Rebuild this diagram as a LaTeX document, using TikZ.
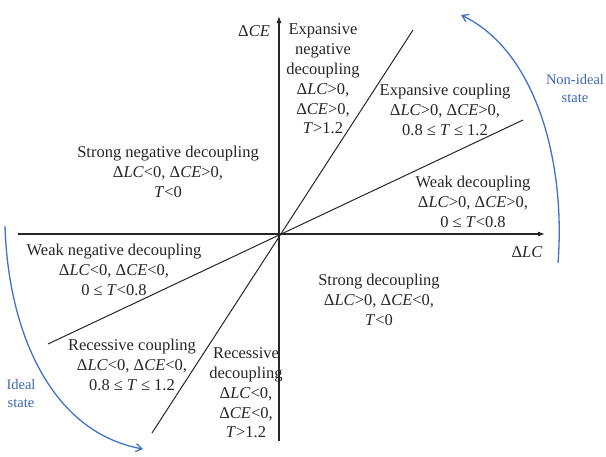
\documentclass[tikz,border=0pt]{standalone}
\usepackage{fontspec}
\setmainfont{Liberation Serif}
\usetikzlibrary{arrows.meta}
\definecolor{txt}{HTML}{262626}
\definecolor{arcblue}{HTML}{3F73C8}
\definecolor{labblue}{HTML}{3B68B0}
\tikzset{
  lbl/.style={inner sep=0pt, align=center, text=txt, font=\fontsize{16.5}{19.8}\selectfont},
  bluelbl/.style={inner sep=0pt, align=center, text=labblue, font=\fontsize{14.5}{18}\selectfont},
  axis/.style={line width=1.1pt, draw=txt, -{Latex[length=7pt,width=5pt]}},
  divider/.style={line width=1pt, draw=txt},
  statearc/.style={line width=1.3pt, draw=arcblue, -{Straight Barb[length=6pt,width=8pt]}}
}
\newcommand{\dL}{Δ\textit{LC}}
\newcommand{\dC}{Δ\textit{CE}}
\newcommand{\myle}{\kern4pt≤\kern4pt}
\begin{document}
\begin{tikzpicture}[x=1pt,y=-1pt]
\useasboundingbox (0,0) rectangle (606,456);
% axes
\coordinate (xs) at (18,234);
\coordinate (xe) at (545,234);
\coordinate (ys) at (279,441);
\coordinate (ye) at (279,16);
\draw[axis] (xs) -- (xe);
\draw[axis] (ys) -- (ye);
% dividing lines
\coordinate (l1a) at (152,433);
\coordinate (l1b) at (413,30);
\coordinate (l2a) at (48,344);
\coordinate (l2b) at (523,120);
\draw[divider] (l1a) -- (l1b);
\draw[divider] (l2a) -- (l2b);
% axis labels
\node[lbl] (ce) at (254,31) {\dC};
\node[lbl] (lc) at (527,252) {\dL};
% regions
\node[lbl] (sneg) at (168,172) {Strong negative decoupling\\\dL<0, \dC>0,\\\textit{T}<0};
\node[lbl] (expneg) at (323,79) {Expansive\\negative\\decoupling\\\dL>0,\\\dC>0,\\\textit{T}>1.2};
\node[lbl] (expc) at (445,110) {Expansive coupling\\\dL>0, \dC>0,\\0.8\myle\textit{T}\myle1.2};
\node[lbl] (weak) at (473,202) {Weak decoupling\\\dL>0, \dC>0,\\0\myle\textit{T}<0.8};
\node[lbl] (strong) at (379,300) {Strong decoupling\\\dL>0, \dC<0,\\\textit{T}<0};
\node[lbl] (wneg) at (114,270) {Weak negative decoupling\\\dL<0, \dC<0,\\0\myle\textit{T}<0.8};
\node[lbl] (recc) at (132,365) {Recessive coupling\\\dL<0, \dC<0,\\0.8\myle\textit{T}\myle1.2};
\node[lbl] (recd) at (246,393) {Recessive\\decoupling\\\dL<0,\\\dC<0,\\\textit{T}>1.2};
% states
\node[bluelbl] (nonideal) at (575,89) {Non-ideal\\state};
\node[bluelbl] (ideal) at (21,394) {Ideal\\state};
\coordinate (ra) at (558,263);
\coordinate (rb) at (461,15);
\draw[statearc] (ra) .. controls (566,160) and (535,50) .. (rb);
\coordinate (la) at (5,226);
\coordinate (lb) at (143,449);
\draw[statearc] (la) .. controls (8,330) and (50,432) .. (lb);
\end{tikzpicture}
\end{document}
